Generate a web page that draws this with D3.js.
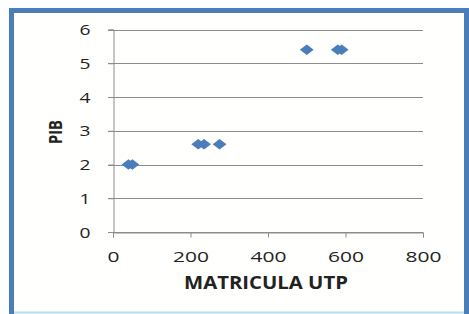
<!DOCTYPE html>
<html>
<head>
<meta charset="utf-8">
<script src="https://cdn.jsdelivr.net/npm/d3@7"></script>
<style>
  body { margin: 0; background: #fff; }
  svg { display: block; font-family: "Open Sans", Lato, sans-serif; }
</style>
</head>
<body>
<svg id="chart" width="469" height="314"></svg>
<script>
// data
const matricula = [40, 50, 220, 235, 275, 500, 580, 590];
const pib = [2, 2, 2.6, 2.6, 2.6, 5.4, 5.4, 5.4];
const xTicks = [0, 200, 400, 600, 800];
const yTicks = [0, 1, 2, 3, 4, 5, 6];

const svg = d3.select("#chart");

// frame like the pasted excel chart
svg.append("rect")
  .attr("x", 11.5).attr("y", 10.5)
  .attr("width", 455).attr("height", 310)
  .attr("fill", "#fffffd")
  .attr("stroke", "#4a7ebb")
  .attr("stroke-width", 5);
svg.append("line")
  .attr("x1", 14).attr("x2", 464)
  .attr("y1", 312.5).attr("y2", 312.5)
  .attr("stroke", "#b9dcef").attr("stroke-width", 2);

const x = d3.scaleLinear().domain([0, 800]).range([113, 423]);
const y = d3.scaleLinear().domain([0, 6]).range([232, 29.5]);

// horizontal gridlines
svg.append("g")
  .selectAll("line")
  .data(yTicks)
  .enter()
  .append("line")
  .attr("x1", 108).attr("x2", 423)
  .attr("y1", d => Math.round(y(d)) + 0.5)
  .attr("y2", d => Math.round(y(d)) + 0.5)
  .attr("stroke", "#8c8c8c");

// y axis
const yAxis = svg.append("g")
  .attr("transform", "translate(113.5,0)")
  .call(d3.axisLeft(y).tickValues(yTicks).tickSize(5).tickPadding(18).tickFormat(d3.format("d")));
yAxis.select(".domain").attr("stroke", "#8c8c8c");
yAxis.selectAll(".tick line").attr("stroke", "#8c8c8c");
yAxis.selectAll("text")
  .attr("font-size", 14).attr("fill", "#222")
  .attr("font-family", "'Open Sans', sans-serif")
  .attr("dy", "0.36em")
  .attr("textLength", 11).attr("lengthAdjust", "spacingAndGlyphs");

// x axis
const xAxis = svg.append("g")
  .attr("transform", "translate(0,232.5)")
  .call(d3.axisBottom(x).tickValues(xTicks).tickSize(5).tickPadding(15).tickFormat(d3.format("d")));
xAxis.select(".domain").attr("stroke", "#8c8c8c");
xAxis.selectAll(".tick line").attr("stroke", "#8c8c8c");
xAxis.selectAll("text")
  .attr("font-size", 14).attr("fill", "#222")
  .attr("font-family", "'Open Sans', sans-serif")
  .attr("dy", "0.71em")
  .attr("textLength", d => String(d).length * 12)
  .attr("lengthAdjust", "spacingAndGlyphs");

// diamonds
const diamond = d3.symbol().type(d3.symbolDiamond2).size(72);
svg.append("g")
  .selectAll("path")
  .data(matricula)
  .enter()
  .append("path")
  .attr("d", diamond)
  .attr("transform", (d, i) => "translate(" + x(d) + "," + y(pib[i]) + ") scale(1.3,1)")
  .attr("fill", "#4a7ebb");

// axis titles
svg.append("text")
  .attr("x", 266).attr("y", 289)
  .attr("text-anchor", "middle")
  .attr("font-weight", "bold")
  .attr("font-size", 17)
  .attr("fill", "#222")
  .attr("textLength", 164).attr("lengthAdjust", "spacingAndGlyphs")
  .text("MATRICULA UTP");

svg.append("text")
  .attr("transform", "translate(62,132) rotate(-90)")
  .attr("text-anchor", "middle")
  .attr("font-weight", "bold")
  .attr("font-size", 17)
  .attr("fill", "#222")
  .attr("textLength", 24).attr("lengthAdjust", "spacingAndGlyphs")
  .text("PIB");
</script>
</body>
</html>
